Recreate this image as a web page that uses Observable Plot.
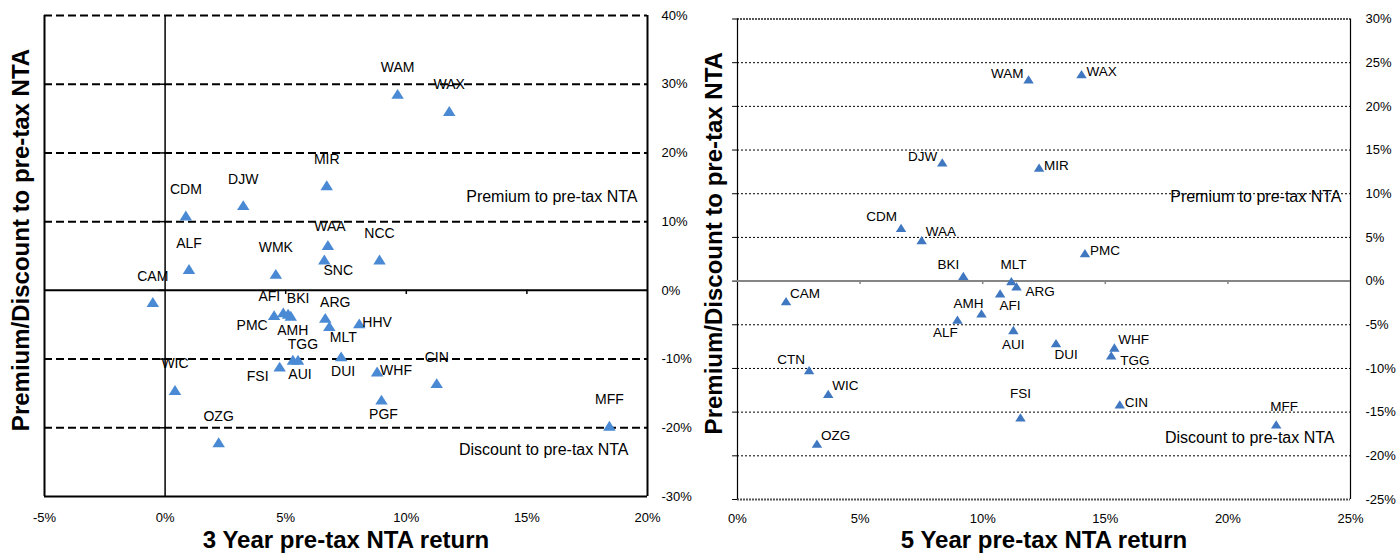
<!DOCTYPE html>
<html>
<head>
<meta charset="utf-8">
<script src="https://cdn.jsdelivr.net/npm/d3@7"></script>
<script src="https://cdn.jsdelivr.net/npm/@observablehq/plot@0.6"></script>
<style>
  html, body { margin: 0; padding: 0; background: #fff; }
  #wrap { display: flex; width: 1397px; height: 557px; overflow: hidden; }
  #wrap svg { display: block; flex: none; }
</style>
</head>
<body>
<div id="wrap"></div>
<script>
// ---------- 3-year panel data ----------
const names3 = ["WAM","WAX","MIR","DJW","CDM","WAA","NCC","SNC","ALF","WMK","CAM","PMC","AFI","BKI","AMH","ARG","MLT","HHV","TGG","AUI","DUI","FSI","WHF","CIN","PGF","WIC","OZG","MFF"];
const ret3   = [9.64,11.78,6.70,3.24,0.86,6.75,8.89,6.60,0.99,4.59,-0.51,4.52,4.90,5.10,5.21,6.64,6.81,8.05,5.30,5.51,7.30,4.75,8.79,11.26,8.97,0.41,2.22,18.42];
const prem3  = [28.6,26.1,15.3,12.4,10.9,6.6,4.5,4.5,3.1,2.4,-1.7,-3.6,-3.2,-3.4,-3.7,-4.0,-5.2,-4.8,-10.1,-10.1,-9.6,-11.1,-11.8,-13.5,-15.9,-14.5,-22.1,-19.7];
const place3 = ["N","N","N","N","N","n","N","SE","N","N","N","SW","NW","NE","S","NE","SE","E","NE","S","S","SW","E","N","S","N","N","N"];
const xTicks3 = [-5,0,5,10,15,20];
const yTicks3 = [-30,-20,-10,0,10,20,30,40];

// ---------- 5-year panel data ----------
const names5 = ["WAM","WAX","DJW","MIR","CDM","WAA","PMC","BKI","MLT","ARG","AFI","CAM","AMH","ALF","AUI","DUI","WHF","TGG","CTN","WIC","FSI","CIN","MFF","OZG"];
const ret5   = [11.87,14.03,8.35,12.30,6.67,7.51,14.17,9.21,11.17,11.38,10.71,1.98,9.95,8.97,11.25,12.99,15.37,15.24,2.92,3.70,11.54,15.59,21.97,3.24];
const prem5  = [23.1,23.7,13.6,13.0,6.1,4.7,3.2,0.6,0.0,-0.6,-1.4,-2.3,-3.7,-4.4,-5.6,-7.1,-7.6,-8.5,-10.2,-12.9,-15.6,-14.1,-16.4,-18.6];
const place5 = ["W","E","W","E","NW","NE","E","NW","N","SE","se","NE","nw","sw","S","se","NE","SE","NW","NE","NN","E","ne","NE"];
const xTicks5 = [0,5,10,15,20,25];
const yTicks5 = [-25,-20,-15,-10,-5,0,5,10,15,20,25,30];

const yTitle = "Premium/Discount to pre-tax NTA";
const xTitle3 = "3 Year pre-tax NTA return";
const xTitle5 = "5 Year pre-tax NTA return";
const premiumNote = "Premium to pre-tax NTA";
const discountNote = "Discount to pre-tax NTA";

// ---------- styling / layout ----------
const FONT = "'Liberation Sans', Arial, Helvetica, sans-serif";
const pct = d => `${d}%`;
const tri = {
  draw(context, size) {
    const r = Math.sqrt(size / Math.PI);
    const w = r * 1.45, h = r * 1.15;
    context.moveTo(0, -h);
    context.lineTo(w, h);
    context.lineTo(-w, h);
    context.closePath();
  }
};

const offsets3 = {
  N:  {dx: 0,   dy: -26, textAnchor: "middle"},
  n:  {dx: 2,   dy: -18, textAnchor: "middle"},
  S:  {dx: 2,   dy: 15,  textAnchor: "middle"},
  NE: {dx: 10,  dy: -15, textAnchor: "middle"},
  NW: {dx: -14, dy: -16, textAnchor: "middle"},
  SE: {dx: 14,  dy: 11,  textAnchor: "middle"},
  SW: {dx: -22, dy: 10,  textAnchor: "middle"},
  E:  {dx: 3,   dy: -1,  textAnchor: "start"}
};
const offsets5 = {
  E:  {dx: 5,   dy: -2,  textAnchor: "start"},
  W:  {dx: -5,  dy: -6,  textAnchor: "end"},
  NE: {dx: 4,   dy: -8,  textAnchor: "start"},
  NW: {dx: -4,  dy: -11, textAnchor: "end"},
  SE: {dx: 9,   dy: 5,   textAnchor: "start"},
  N:  {dx: 2,   dy: -16, textAnchor: "middle"},
  NN: {dx: 0,   dy: -24, textAnchor: "middle"},
  S:  {dx: 0,   dy: 15,  textAnchor: "middle"},
  se: {dx: 10,  dy: 12,  textAnchor: "middle"},
  sw: {dx: -12, dy: 13,  textAnchor: "middle"},
  nw: {dx: -13, dy: -10, textAnchor: "middle"},
  ne: {dx: 8,   dy: -18, textAnchor: "middle"}
};

function labelMarks(rows, offsets, fontSize) {
  return Object.entries(offsets).map(([key, o]) =>
    Plot.text(rows.filter(d => d.pos === key), {
      x: "x", y: "y", text: "name",
      dx: o.dx, dy: o.dy, textAnchor: o.textAnchor,
      fontSize, fill: "#000"
    })
  );
}

// ---------- left panel ----------
const rows3 = names3.map((n, i) => ({name: n, x: ret3[i], y: prem3[i], pos: place3[i]}));
const left = Plot.plot({
  width: 700, height: 557,
  marginLeft: 44, marginRight: 53, marginTop: 15, marginBottom: 61,
  x: {domain: [-5, 20]},
  y: {domain: [-30, 40]},
  style: {fontFamily: FONT, fontSize: "13px", background: "#fff", overflow: "visible", color: "#000"},
  marks: [
    Plot.ruleY(yTicks3.filter(v => v !== 0 && v !== -30), {stroke: "#000", strokeWidth: 2, strokeDasharray: "8,4"}),
    Plot.ruleY([0], {stroke: "#000", strokeWidth: 2}),
    Plot.ruleY([-30], {stroke: "#000", strokeWidth: 2}),
    Plot.ruleX([-5, 20], {stroke: "#000", strokeWidth: 2}),
    Plot.ruleX([0], {stroke: "#000", strokeWidth: 1.5}),
    Plot.ruleX(xTicks3.filter(v => v > -5 && v < 20 && v !== 0), {x: d => d, y1: 0, y2: -0.6, stroke: "#000", strokeWidth: 1.5}),
    Plot.ruleY(yTicks3.filter(v => v > -30 && v < 40), {y: d => d, x1: -0.25, x2: 0, stroke: "#000", strokeWidth: 1.5}),
    Plot.axisX({anchor: "bottom", ticks: xTicks3, tickFormat: pct, tickSize: 0, tickPadding: 16, fontSize: 13, label: null}),
    Plot.axisY({anchor: "right", ticks: yTicks3, tickFormat: pct, tickSize: 0, tickPadding: 14, fontSize: 13, label: null}),
    Plot.dot(rows3, {x: "x", y: "y", symbol: tri, r: 4.3, fill: "#4a8ad4", stroke: "none"}),
    ...labelMarks(rows3, offsets3, 14),
    Plot.text([premiumNote], {frameAnchor: "right", textAnchor: "end", dx: -10, dy: -59, fontSize: 16, fill: "#000"}),
    Plot.text([discountNote], {frameAnchor: "right", textAnchor: "end", dx: -19, dy: 194, fontSize: 16, fill: "#000"}),
    Plot.text([yTitle], {frameAnchor: "left", textAnchor: "middle", rotate: -90, dx: -23, dy: -16, fontSize: 24, fontWeight: "bold", fill: "#000"}),
    Plot.text([xTitle3], {frameAnchor: "bottom", textAnchor: "middle", dy: 51, fontSize: 24, fontWeight: "bold", fill: "#000"})
  ]
});

// ---------- right panel ----------
const rows5 = names5.map((n, i) => ({name: n, x: ret5[i], y: prem5[i], pos: place5[i]}));
const right = Plot.plot({
  width: 697, height: 557,
  marginLeft: 37, marginRight: 47, marginTop: 18.5, marginBottom: 58,
  x: {domain: [0, 25]},
  y: {domain: [-25, 30]},
  style: {fontFamily: FONT, fontSize: "13px", background: "#fff", overflow: "visible", color: "#000"},
  marks: [
    Plot.ruleY(yTicks5.filter(v => v !== 0 && v !== -25 && v !== 30), {stroke: "#000", strokeWidth: 1, strokeDasharray: "2,2"}),
    Plot.ruleY([-25, 30], {stroke: "#555", strokeWidth: 2, strokeDasharray: "2,1"}),
    Plot.ruleX([0, 25], {stroke: "#000", strokeWidth: 1.2}),
    Plot.ruleY([0], {stroke: "#858585", strokeWidth: 2}),
    Plot.ruleX(xTicks5.filter(v => v > 0 && v < 25), {x: d => d, y1: 0, y2: -0.4, stroke: "#858585", strokeWidth: 1.5}),
    Plot.ruleY(yTicks5, {y: d => d, x1: -0.2, x2: 0, stroke: "#000", strokeWidth: 1}),
    Plot.axisX({anchor: "bottom", ticks: xTicks5, tickFormat: pct, tickSize: 0, tickPadding: 14, fontSize: 13, label: null}),
    Plot.axisY({anchor: "right", ticks: yTicks5, tickFormat: pct, tickSize: 0, tickPadding: 15, fontSize: 13, label: null}),
    Plot.dot(rows5, {x: "x", y: "y", symbol: tri, r: 3.6, fill: "#3f77c0", stroke: "none"}),
    ...labelMarks(rows5, offsets5, 13.5),
    Plot.text([premiumNote], {frameAnchor: "right", textAnchor: "end", dx: -9, dy: -62, fontSize: 16, fill: "#000"}),
    Plot.text([discountNote], {frameAnchor: "right", textAnchor: "end", dx: -16, dy: 178.5, fontSize: 16, fill: "#000"}),
    Plot.text([yTitle], {frameAnchor: "left", textAnchor: "middle", rotate: -90, dx: -23, dy: -16, fontSize: 24, fontWeight: "bold", fill: "#000"}),
    Plot.text([xTitle5], {frameAnchor: "bottom", textAnchor: "middle", dy: 48, fontSize: 24, fontWeight: "bold", fill: "#000"})
  ]
});

const wrap = document.getElementById("wrap");
wrap.appendChild(left);
wrap.appendChild(right);
</script>
</body>
</html>
